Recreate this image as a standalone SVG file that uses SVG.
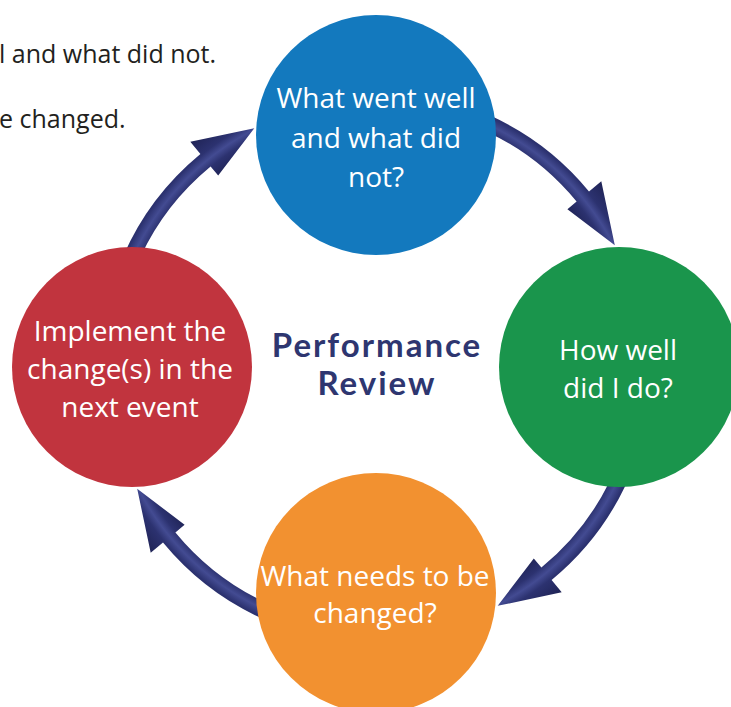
<svg xmlns="http://www.w3.org/2000/svg" width="731" height="707" viewBox="0 0 731 707">
  <style>
    .node-label { font-family: "Open Sans", "Liberation Sans", sans-serif; font-size: 28px; fill: #ffffff; text-anchor: middle; }
    .side-note { font-family: "Open Sans", "Liberation Sans", sans-serif; font-size: 25px; fill: #231f20; }
    .title { font-family: Lato, "DejaVu Sans", sans-serif; font-weight: 700; font-size: 33px; letter-spacing: 2px; fill: #2e3670; text-anchor: middle; }
    .arrow { fill: url(#tube); }
  </style>
  <defs>
    <!-- ring-shaped shading so each curved arrow reads as a rounded tube -->
    <radialGradient id="tube" gradientUnits="userSpaceOnUse" cx="376" cy="367" r="300">
      <stop offset="0.82" stop-color="#1f2355"/>
      <stop offset="0.865" stop-color="#2c3270"/>
      <stop offset="0.89" stop-color="#434b92"/>
      <stop offset="0.915" stop-color="#2c3270"/>
      <stop offset="0.975" stop-color="#1f2355"/>
    </radialGradient>
    <!-- one arc arrow; the other three are rotated copies about the ring centre -->
    <path id="arc-arrow" class="arrow" d="M 470.4,107.6 A 276 276 0 0 1 589.0,191.4 L 601.3,181.3 L 614.8,245.3 L 567.4,209.2 L 576.6,201.6 A 260 260 0 0 0 464.9,122.7 Z"/>
  </defs>

  <rect width="731" height="707" fill="#ffffff"/>

  <!-- partially visible notes at the top left -->
  <text class="side-note" x="-1" y="63">l and what did not.</text>
  <text class="side-note" x="-1" y="128">e changed.</text>

  <g id="connectors">
    <use href="#arc-arrow"/>
    <use href="#arc-arrow" transform="rotate(90 376 367)"/>
    <use href="#arc-arrow" transform="rotate(180 376 367)"/>
    <use href="#arc-arrow" transform="rotate(270 376 367)"/>
  </g>

  <g id="node-went-well">
    <circle cx="376" cy="135" r="120" fill="#1379be"/>
    <text class="node-label" x="376" y="108">What went well</text>
    <text class="node-label" x="376" y="148">and what did</text>
    <text class="node-label" x="376" y="187">not?</text>
  </g>

  <g id="node-how-well">
    <circle cx="619" cy="367" r="120" fill="#1a954c"/>
    <text class="node-label" x="618" y="360">How well</text>
    <text class="node-label" x="618" y="398">did I do?</text>
  </g>

  <g id="node-needs-change">
    <circle cx="376" cy="593" r="120" fill="#f29130"/>
    <text class="node-label" x="375" y="586">What needs to be</text>
    <text class="node-label" x="375" y="623">changed?</text>
  </g>

  <g id="node-implement">
    <circle cx="132" cy="367" r="120" fill="#c1343e"/>
    <text class="node-label" x="130" y="341">Implement the</text>
    <text class="node-label" x="130" y="379">change(s) in the</text>
    <text class="node-label" x="130" y="417">next event</text>
  </g>

  <g id="center-title">
    <text class="title" x="377" y="357">Performance</text>
    <text class="title" x="377" y="395">Review</text>
  </g>
</svg>
